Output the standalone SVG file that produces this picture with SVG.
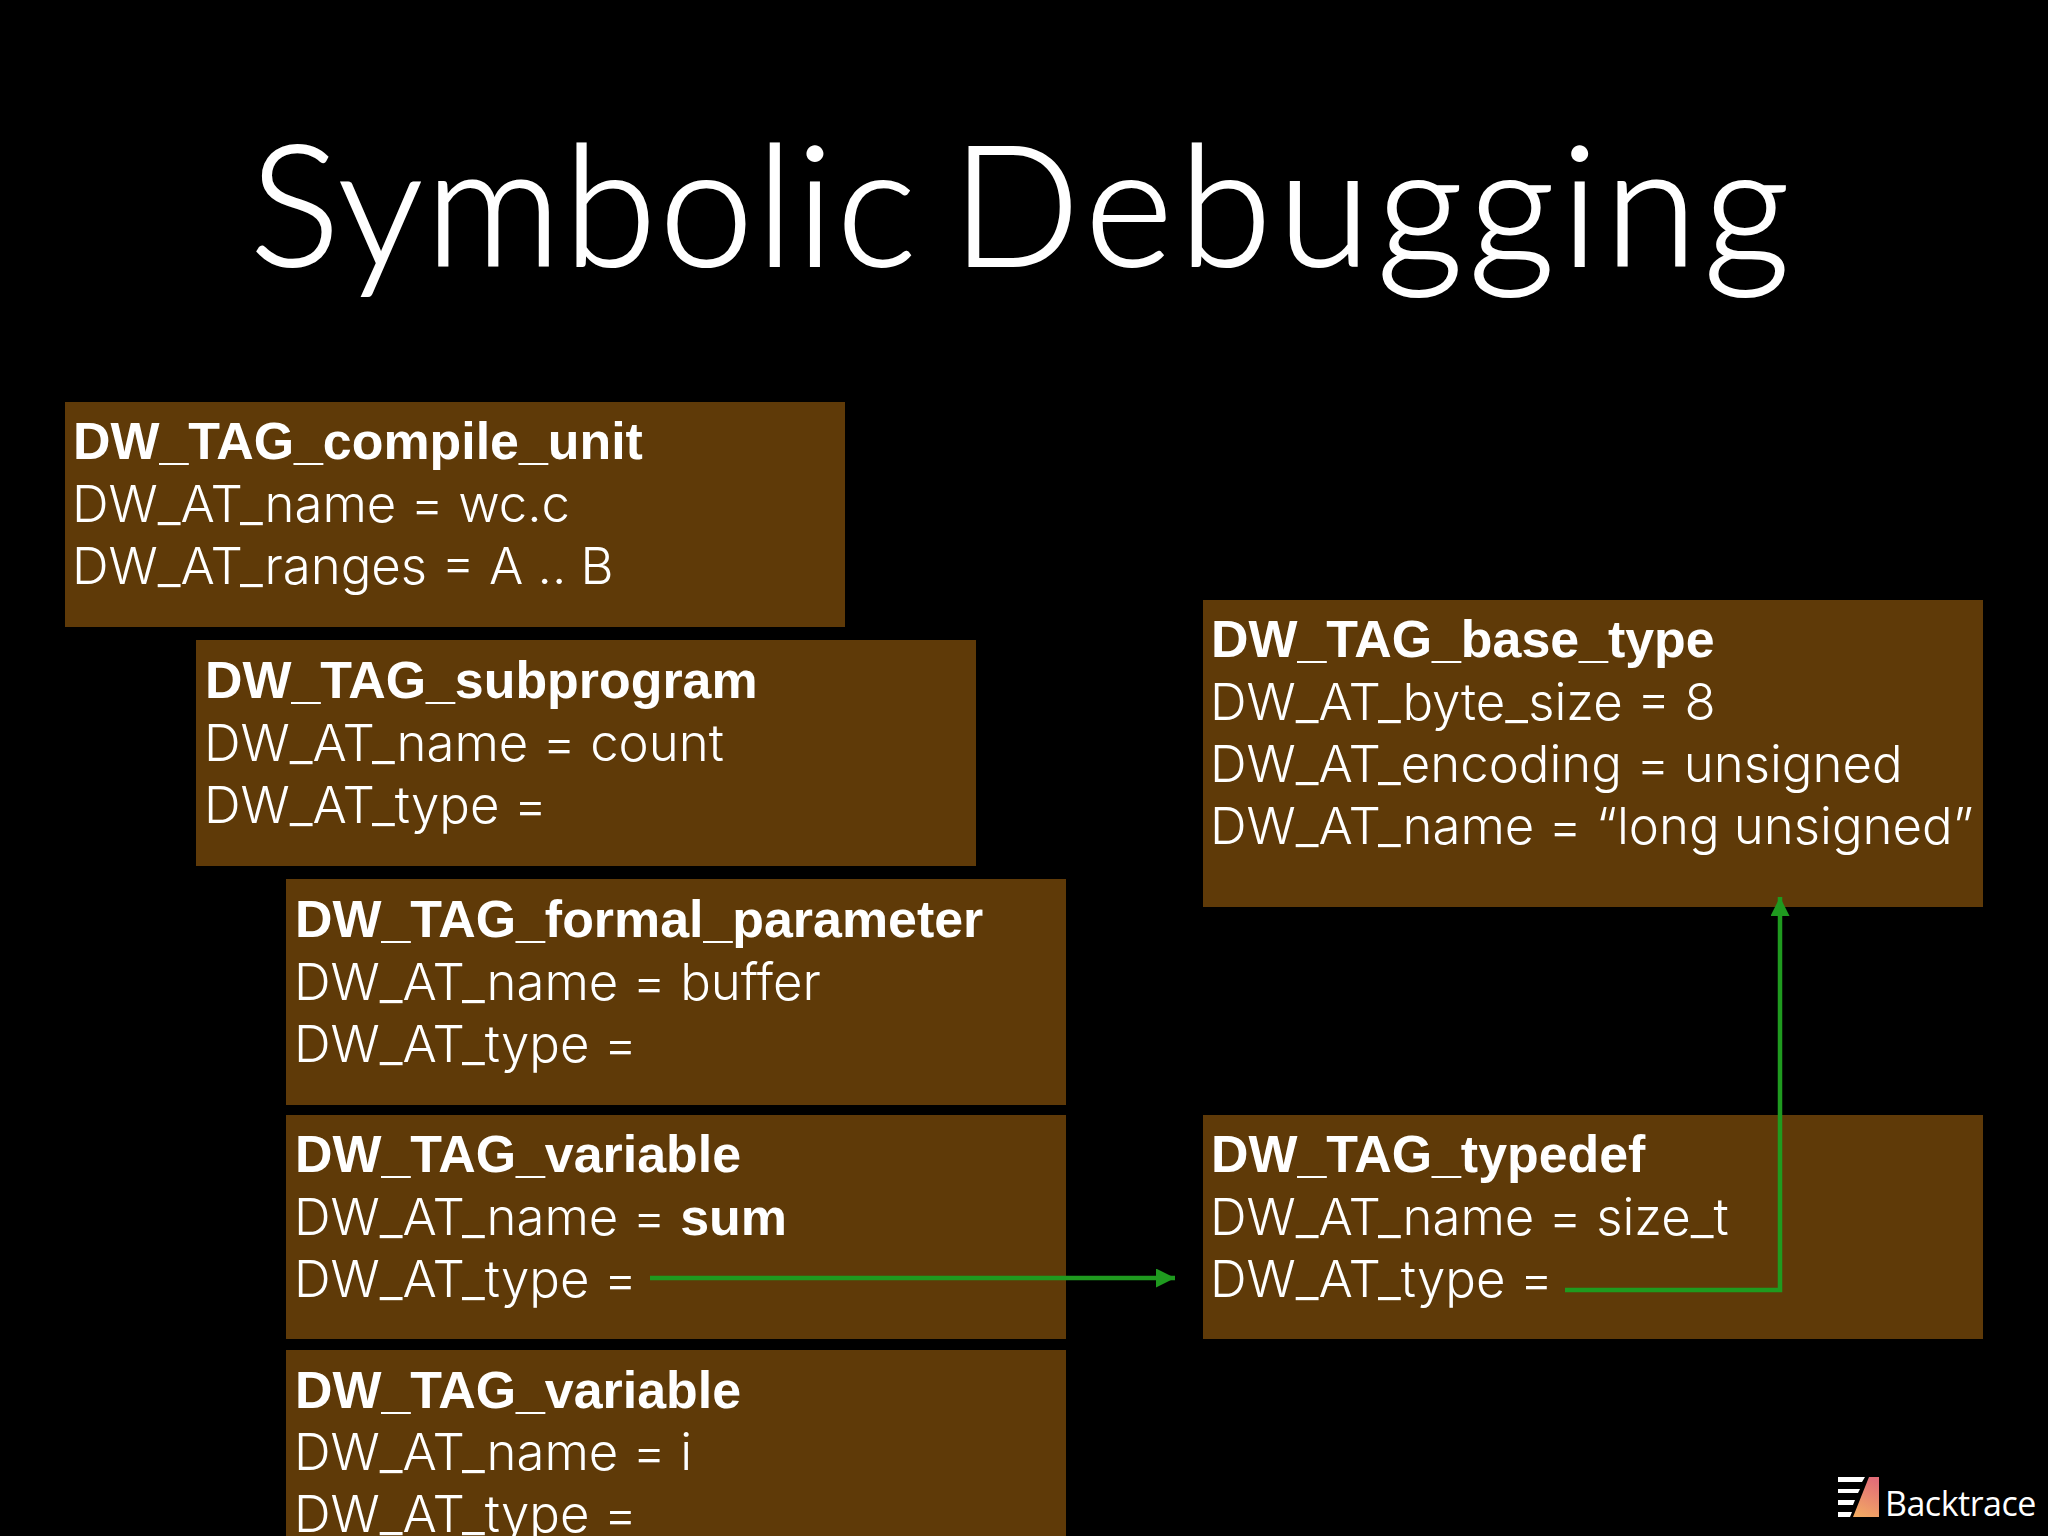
<svg xmlns="http://www.w3.org/2000/svg" width="2048" height="1536" viewBox="0 0 2048 1536">
<style>
.b{fill:#5f3a08}
text{fill:#fff;font-family:"Liberation Sans",Arial,sans-serif}
.h{font-weight:700;font-size:51.9px}
.l{font-family:Inter,"Liberation Sans",sans-serif;font-weight:300;font-size:50.9px}
.s{font-weight:700;font-family:"Liberation Sans",Arial,sans-serif;font-size:52px}
.t{font-family:Lato,"Open Sans",sans-serif;font-weight:300;font-size:168px;stroke:#fff;stroke-width:2px}
.c{fill:none;stroke:#1f9a1f;stroke-width:4.5}
</style>
<defs>
<marker id="a" viewBox="0 0 19 19" refX="19" refY="9.5" markerUnits="userSpaceOnUse" markerWidth="19" markerHeight="19" orient="auto"><path d="M0 0L19 9.5L0 19Z" fill="#1f9a1f"/></marker>
<linearGradient id="g" x1="0.6" y1="0" x2="0.3" y2="1"><stop offset="0" stop-color="#e26d78"/><stop offset="1" stop-color="#f2a963"/></linearGradient>
</defs>
<rect width="2048" height="1536" fill="#000"/>
<text id="title" class="t" y="266"><tspan x="250" letter-spacing="3">Symbolic</tspan> <tspan x="952" letter-spacing="6.5">Debugging</tspan></text>
<g id="compile_unit"><rect class="b" x="65" y="402" width="780" height="225"/>
<text class="h" x="73" y="459">DW_TAG_compile_unit</text><text class="l" x="72" y="522">DW_AT_name = wc.c</text><text class="l" x="72" y="584">DW_AT_ranges = A .. B</text></g>
<g id="subprogram"><rect class="b" x="196" y="640" width="780" height="226"/>
<text class="h" x="205" y="698">DW_TAG_subprogram</text><text class="l" x="204" y="761">DW_AT_name = count</text><text class="l" x="204" y="823">DW_AT_type =</text></g>
<g id="formal_parameter"><rect class="b" x="286" y="879" width="780" height="226"/>
<text class="h" x="295" y="937">DW_TAG_formal_parameter</text><text class="l" x="294" y="1000">DW_AT_name = buffer</text><text class="l" x="294" y="1062">DW_AT_type =</text></g>
<g id="variable_sum"><rect class="b" x="286" y="1115" width="780" height="224"/>
<text class="h" x="295" y="1172">DW_TAG_variable</text><text class="l" x="294" y="1235">DW_AT_name = <tspan class="s">sum</tspan></text><text class="l" x="294" y="1297">DW_AT_type =</text></g>
<g id="variable_i"><rect class="b" x="286" y="1350" width="780" height="186"/>
<text class="h" x="295" y="1408">DW_TAG_variable</text><text class="l" x="294" y="1470">DW_AT_name = i</text><text class="l" x="294" y="1532">DW_AT_type =</text></g>
<g id="base_type"><rect class="b" x="1203" y="600" width="780" height="307"/>
<text class="h" x="1211" y="657">DW_TAG_base_type</text><text class="l" x="1210" y="720">DW_AT_byte_size = 8</text><text class="l" x="1210" y="782">DW_AT_encoding = unsigned</text><text class="l" x="1210" y="844">DW_AT_name = “long unsigned”</text></g>
<g id="typedef"><rect class="b" x="1203" y="1115" width="780" height="224"/>
<text class="h" x="1211" y="1172">DW_TAG_typedef</text><text class="l" x="1210" y="1235">DW_AT_name = size_t</text><text class="l" x="1210" y="1297">DW_AT_type =</text></g>
<g id="connectors">
<path class="c" d="M650 1278H1175" marker-end="url(#a)"/>
<path class="c" d="M1565 1290H1780V897" marker-end="url(#a)"/>
</g>
<g id="logo">
<path fill="#fff" d="M1838 1477H1865L1862 1482H1838ZM1838 1489H1860L1858 1493H1838ZM1838 1500H1855L1853 1505H1838ZM1838 1512H1852L1850 1517H1838Z"/>
<path fill="url(#g)" d="M1853 1517L1869 1477H1879V1517Z"/>
<text x="1885" y="1516" font-size="34" letter-spacing="-0.5" font-weight="500" style="font-family:'Open Sans',sans-serif">Backtrace</text>
</g>
</svg>
